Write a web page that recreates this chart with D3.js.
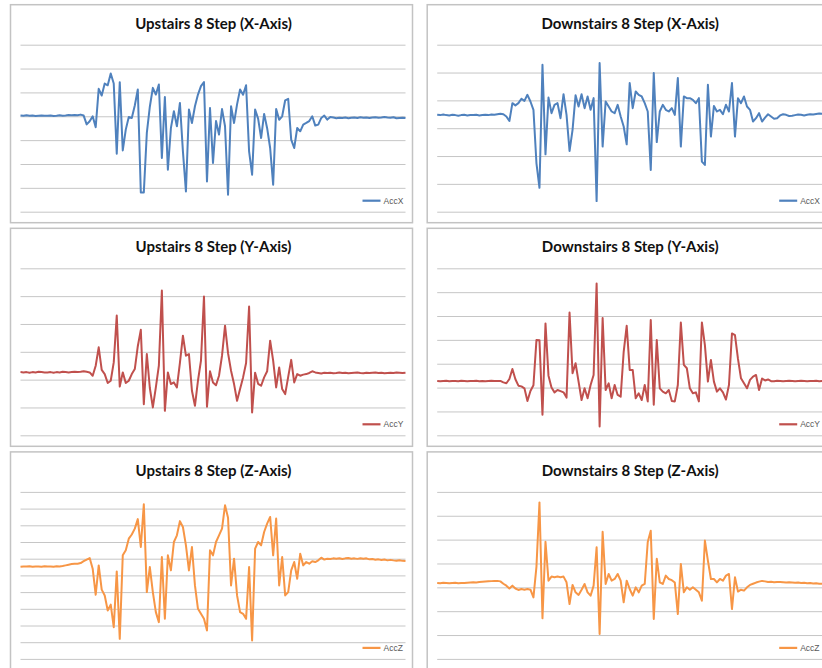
<!DOCTYPE html>
<html>
<head>
<meta charset="utf-8">
<script src="https://cdn.jsdelivr.net/npm/d3@7"></script>
<style>
  body { margin: 0; background: #fff; }
  svg { display: block; }
</style>
</head>
<body>
<script>
// chart titles, one per panel (row by row, left then right)
var titles = ["Upstairs 8 Step (X-Axis)", "Downstairs 8 Step (X-Axis)",
              "Upstairs 8 Step (Y-Axis)", "Downstairs 8 Step (Y-Axis)",
              "Upstairs 8 Step (Z-Axis)", "Downstairs 8 Step (Z-Axis)"];
var seriesNames = ["AccX", "AccX", "AccY", "AccY", "AccZ", "AccZ"];

// gridline values of each value axis (labels are hidden in the chart)
var ticksUpX = [-4, -3, -2, -1, 0, 1, 2, 3];
var ticksDownX = [-3, -2, -1, 0, 1, 2, 3];
var ticksUpY = [-2, -1, 0, 1, 2, 3, 4];
var ticksDownY = [-2, -1, 0, 1, 2, 3, 4, 5];
var ticksUpZ = [-5, -4, -3, -2, -1, 0, 1, 2, 3, 4, 5];
var ticksDownZ = [-3, -2, -1, 0, 1, 2, 3, 4];

// accelerometer samples
var upstairsX = [0.03,0.02,0.04,0.02,0.03,0.01,0.02,0.03,0.02,0.02,0.03,0.01,0.02,0.04,0.02,0.03,0.05,0.04,0.05,0.04,
  0.07,0.03,-0.34,-0.21,0.0,-0.46,1.15,0.87,1.37,1.3,1.79,1.37,-1.57,1.43,-1.43,-0.56,-0.03,-0.07,0.45,1.12,
  -3.19,-3.19,-0.7,0.4,1.19,0.91,1.33,-1.75,0.81,-2.24,-0.5,0.21,-0.42,0.56,-1.47,-3.15,0.28,-0.28,0.42,0.91,
  1.26,1.43,-2.73,0.35,-1.96,-0.2,-0.77,0.3,-0.42,-3.29,0.42,-0.28,0.5,1.12,0.9,1.3,-1.47,-2.45,0.28,-0.1,
  -0.91,0.1,-0.5,-1.33,-2.87,0.3,-0.15,0.0,0.67,0.73,-0.98,-1.33,-0.49,-0.63,-0.35,-0.28,-0.2,0.0,-0.39,-0.35,-0.07,0.03,-0.14,-0.03,
  -0.05,-0.08,-0.06,-0.07,-0.05,-0.08,-0.06,-0.05,-0.07,-0.04,-0.06,-0.05,-0.07,-0.05,-0.04,-0.06,-0.05,-0.03,-0.05,-0.06,-0.04,-0.08,-0.07,-0.06,-0.07];

var downstairsX = [0.48,0.47,0.49,0.47,0.46,0.48,0.47,0.45,0.47,0.48,0.46,0.47,0.47,0.48,0.46,0.47,0.48,0.47,0.49,0.48,
  0.5,0.52,0.5,0.42,0.26,0.9,0.82,0.9,1.06,0.98,1.2,0.96,0.66,-1.26,-2.14,2.28,-0.94,1.1,0.54,0.84,
  0.9,0.36,1.22,0.48,-0.82,-0.06,1.18,0.78,1.22,0.72,1.14,0.66,1.08,-2.62,2.34,-0.66,0.96,0.78,0.6,0.54,
  0.84,0.42,0.06,-0.58,1.62,0.72,1.32,1.2,1.14,0.9,0.6,-1.5,1.98,-0.5,0.6,0.84,0.66,0.6,0.72,0.48,
  1.8,-0.66,1.14,1.08,1.08,1.02,0.9,1.08,-1.2,-1.32,1.56,-0.3,0.8,0.6,0.66,0.5,0.84,0.6,1.62,-0.3,
  1.08,0.9,1.14,0.78,0.66,0.24,0.36,0.54,0.24,0.38,0.5,0.42,0.34,0.36,0.46,0.5,0.48,0.44,0.45,0.47,0.49,0.48,0.46,0.48,0.5,0.49,0.51,0.53,0.52];

var upstairsY = [0.27,0.26,0.27,0.25,0.27,0.26,0.28,0.27,0.26,0.26,0.27,0.25,0.27,0.26,0.28,0.27,0.26,0.27,0.28,0.27,0.28,0.3,
  0.28,0.26,0.14,0.5,1.16,0.35,0.2,-0.12,-0.04,0.62,2.3,-0.25,0.26,-0.12,-0.04,0.2,0.38,1.2,1.79,-0.88,
  0.92,-0.3,-1.0,-0.28,0.5,3.2,-1.12,0.26,-0.16,-0.1,-0.28,0.6,1.58,0.86,0.92,-0.4,-0.94,-0.04,0.68,2.99,
  -0.97,0.3,-0.1,-0.2,0.14,0.86,1.94,0.95,0.32,-0.16,-0.76,-0.34,0.08,0.6,2.63,-1.18,0.25,-0.15,-0.22,0.08,
  0.3,1.4,0.68,-0.28,0.44,-0.34,-0.52,0.1,0.71,-0.1,0.2,0.14,0.18,0.2,0.24,0.3,0.26,0.24,0.22,0.25,
  0.24,0.25,0.23,0.24,0.26,0.24,0.25,0.23,0.24,0.25,0.26,0.24,0.23,0.25,0.24,0.25,0.26,0.24,0.25,0.23,0.24,0.25,0.24,0.26,0.25,0.24,0.25];

var downstairsY = [0.28,0.27,0.28,0.29,0.27,0.28,0.28,0.27,0.29,0.28,0.27,0.28,0.28,0.29,0.27,0.28,0.27,0.28,0.29,0.28,
  0.28,0.28,0.22,0.18,0.36,0.78,0.35,0.08,0.05,-0.03,-0.56,-0.14,0.1,1.99,1.98,-1.14,2.69,0.5,0.0,-0.2,
  -0.1,-0.15,-0.2,-0.42,3.15,0.6,1.02,0.25,-0.52,-0.03,-0.45,0.11,0.53,4.36,-1.63,2.92,-0.1,0.18,-0.45,0.11,
  -0.31,-0.38,1.5,2.59,0.74,0.74,-0.45,-0.24,-0.52,0.11,-0.58,2.83,-0.72,1.99,-0.03,-0.17,-0.24,-0.1,-0.56,-0.58,
  0.11,2.73,0.95,0.81,-0.03,-0.24,-0.2,-0.58,2.73,1.78,0.25,1.16,0.25,-0.17,-0.03,-0.2,-0.5,0.11,2.27,2.2,
  1.2,0.39,0.18,-0.03,0.32,0.46,0.53,-0.1,0.38,0.3,0.34,0.27,0.27,0.29,0.28,0.27,0.28,0.29,0.28,0.27,0.28,0.29,0.28,0.27,0.28,0.28,0.29,0.27,0.28];

var upstairsZ = [0.52,0.54,0.53,0.55,0.52,0.54,0.53,0.52,0.55,0.53,0.54,0.52,0.55,0.54,0.56,0.6,0.64,0.68,0.7,0.7,0.74,
  0.85,0.95,1.04,0.4,-1.16,0.6,-0.85,-1.2,-2.1,-1.75,-3.1,0.24,-3.8,1.2,1.5,2.2,2.45,2.8,3.37,1.7,
  4.26,-1.0,0.5,-1.0,-2.2,-2.8,1.1,-2.6,1.2,0.3,2.0,2.4,3.25,2.9,1.8,0.3,1.7,-0.6,-2.0,-2.3,
  -2.6,-3.3,1.5,1.2,2.0,2.4,2.8,4.2,3.45,-0.6,1.0,-1.2,-2.2,-2.3,-2.6,0.5,-3.9,1.6,2.0,1.8,
  2.6,3.1,3.5,1.2,3.4,-0.6,1.1,-1.2,-1.0,0.3,0.8,-0.2,1.3,0.6,0.8,0.7,0.85,0.8,0.9,1.06,
  0.95,1.0,0.98,1.02,1.0,1.03,0.98,1.02,1.04,1.0,1.02,0.99,1.03,1.0,1.02,0.96,0.98,0.94,0.96,0.92,0.95,0.9,0.93,0.9,0.88,0.91,0.87,0.86];

var downstairsZ = [0.18,0.17,0.19,0.18,0.17,0.18,0.19,0.17,0.18,0.18,0.19,0.2,0.21,0.2,0.22,0.23,0.24,0.25,0.26,0.27,
  0.27,0.25,0.15,0.07,-0.05,0.07,-0.05,-0.11,-0.07,-0.1,-0.07,-0.1,-0.42,0.87,3.56,-1.3,1.91,0.28,0.45,0.42,
  0.45,0.42,0.45,0.21,-0.7,0.1,-0.21,-0.32,-0.1,0.14,-0.21,-0.35,0.07,1.68,-1.96,2.33,0.14,0.56,0.28,0.35,
  0.56,0.28,-0.63,0.28,-0.07,-0.35,0.0,-0.21,0.07,0.14,1.9,2.37,-1.33,1.2,0.21,0.14,0.49,0.35,0.3,0.2,
  -1.12,0.98,-0.21,0.0,-0.1,0.0,-0.1,-0.21,-0.56,1.96,1.12,0.35,0.35,0.21,0.35,0.28,0.49,0.56,-0.91,0.42,
  -0.18,-0.1,-0.14,0.0,0.1,0.15,0.2,0.24,0.27,0.25,0.22,0.23,0.21,0.22,0.22,0.21,0.2,0.21,0.2,0.19,0.2,0.18,0.19,0.17,0.18,0.16,0.17,0.15,0.15];

var colors = ["#4f81bd", "#4f81bd", "#c0504d", "#c0504d", "#f79646", "#f79646"];

var panels = [
  {values: upstairsX, ticks: ticksUpX},
  {values: downstairsX, ticks: ticksDownX},
  {values: upstairsY, ticks: ticksUpY},
  {values: downstairsY, ticks: ticksDownY},
  {values: upstairsZ, ticks: ticksUpZ},
  {values: downstairsZ, ticks: ticksDownZ}
];

// canvas
var width = 822,
    height = 668;

// chart box size and inner plot area
var boxW = 402,
    boxH = 218,
    plotLeft = 10,
    plotRight = 395,
    plotTop = 40,
    plotBottom = 207;

var svg = d3.select("body").append("svg")
    .attr("width", width)
    .attr("height", height);

panels.forEach(function(p, k) {
  var col = k % 2,
      row = Math.floor(k / 2);

  var g = svg.append("g")
      .attr("transform", "translate(" + (10.5 + col * 416.7) + "," + (4.7 + row * 223.6) + ")");

  // chart area border
  g.append("rect")
      .attr("width", boxW)
      .attr("height", boxH)
      .attr("fill", "#fff")
      .attr("stroke", "#c3c3c3")
      .attr("stroke-width", 1.5);

  g.append("text")
      .attr("x", boxW / 2 + 2)
      .attr("y", 24)
      .attr("text-anchor", "middle")
      .style("font-family", "Lato, 'Liberation Sans', sans-serif")
      .style("font-weight", "bold")
      .style("font-size", "15px")
      .attr("fill", "#111")
      .text(titles[k]);

  var x = d3.scaleLinear()
      .domain([0, p.values.length - 1])
      .range([plotLeft, plotRight]);

  var y = d3.scaleLinear()
      .domain(d3.extent(p.ticks))
      .range([plotBottom, plotTop]);

  // horizontal gridlines from the value axis
  var grid = g.append("g")
      .attr("transform", "translate(" + plotLeft + ",0)")
      .call(d3.axisLeft(y)
        .tickValues(p.ticks)
        .tickSize(-(plotRight - plotLeft))
        .tickFormat(""));
  grid.select(".domain").remove();
  grid.selectAll(".tick line")
      .attr("stroke", "#c6c6c6")
      .attr("stroke-width", 1);

  var line = d3.line()
      .x(function(d, i) { return x(i); })
      .y(function(d) { return y(d); });

  g.append("path")
      .datum(p.values)
      .attr("d", line)
      .attr("fill", "none")
      .attr("stroke", colors[k])
      .attr("stroke-width", 2)
      .attr("stroke-linejoin", "round");

  // legend
  g.append("line")
      .attr("x1", 352).attr("x2", 370)
      .attr("y1", 196).attr("y2", 196)
      .attr("stroke", colors[k])
      .attr("stroke-width", 2.2);

  g.append("text")
      .attr("x", 373)
      .attr("y", 199)
      .style("font-family", "'Liberation Sans', sans-serif")
      .style("font-size", "8.5px")
      .attr("fill", "#595959")
      .text(seriesNames[k]);
});
</script>
</body>
</html>
